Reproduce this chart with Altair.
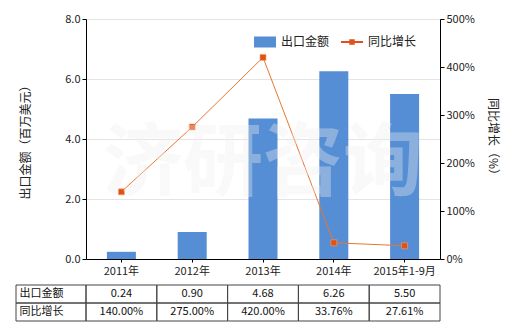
import altair as alt
import pandas as pd

years = ["2011年", "2012年", "2013年", "2014年", "2015年1-9月"]
export_values = [0.24, 0.90, 4.68, 6.26, 5.50]
growth_pct = [140.00, 275.00, 420.00, 33.76, 27.61]
row_labels = ["出口金额", "同比增长"]
series_names = ["出口金额", "同比增长"]
left_ticks = [0, 2, 4, 6, 8]
right_ticks = [0, 100, 200, 300, 400, 500]
watermark = ["济研咨询"]

BLUE = "#558ED5"
ORANGE = "#E0501A"
LINE = "#E8772E"
FONT = "Noto Sans CJK SC"
TXT = "#222222"

df = pd.DataFrame({"year": years, "value": export_values, "growth": growth_pct,
                   "s1": [series_names[0]] * len(years),
                   "s2": [series_names[1]] * len(years)})

x_main = alt.X("year:N", sort=years,
               scale=alt.Scale(paddingInner=0, paddingOuter=0),
               axis=alt.Axis(title=None, labelAngle=0, ticks=True, tickSize=3,
                             domainColor="#000000", tickColor="#000000",
                             labelFontSize=11, labelPadding=3, labelColor=TXT))

bars = alt.Chart(df).mark_bar(size=29).encode(
    x=x_main,
    y=alt.Y("value:Q", scale=alt.Scale(domain=[0, 8], nice=False),
            axis=alt.Axis(title="出口金额（百万美元）", values=left_ticks, format=".1f",
                          tickSize=4, tickColor="#000000", domainColor="#000000",
                          labelFontSize=11, labelPadding=2, labelColor=TXT,
                          titleFontSize=12, titleFontWeight="normal", titleColor=TXT,
                          titlePadding=32, grid=True, gridColor="#e4e4e4")),
    color=alt.Color("s1:N",
                    scale=alt.Scale(domain=[series_names[0]], range=[BLUE]),
                    legend=alt.Legend(title=None, orient="none", legendX=168, legendY=12,
                                      symbolType="M-1,-0.5H1V0.5H-1Z", symbolSize=484,
                                      symbolStrokeWidth=0, symbolOpacity=1,
                                      labelFontSize=12, labelColor=TXT, labelOffset=5,
                                      padding=0)),
)

y_right = alt.Y("growth:Q", scale=alt.Scale(domain=[0, 500], nice=False),
                axis=alt.Axis(title="同比增长（%）", orient="right", values=right_ticks,
                              labelExpr="datum.value + '%'", tickSize=4,
                              tickColor="#000000", domainColor="#000000",
                              labelFontSize=11, labelPadding=2, labelColor=TXT,
                              titleFontSize=12, titleFontWeight="normal", titleColor=TXT,
                              titleAngle=90, titlePadding=11, grid=False))

line = alt.Chart(df).mark_line(strokeWidth=1).encode(
    x=x_main, y=y_right,
    stroke=alt.Stroke("s2:N", scale=alt.Scale(domain=[series_names[1]], range=[LINE]),
                      legend=alt.Legend(title=None, orient="none", legendX=255, legendY=12,
                                        symbolType="M-1,-0.1H1V0.1H-1Z M-0.25,-0.25H0.25V0.25H-0.25Z",
                                        symbolSize=484, symbolFillColor=ORANGE,
                                        symbolStrokeColor=ORANGE, symbolStrokeWidth=0,
                                        symbolOpacity=1,
                                        labelFontSize=12, labelColor=TXT, labelOffset=5,
                                        padding=0)))
points = alt.Chart(df).mark_point(shape="square", size=36, filled=True, color=ORANGE,
                                  stroke="#F2A46A", strokeWidth=0.6, opacity=1).encode(
    x=x_main, y=y_right)

wm = alt.Chart(pd.DataFrame({"t": watermark})).mark_text(
    font=FONT, fontSize=80, fontWeight="bold", color="#f0f0f0", opacity=0.35,
    baseline="middle", align="center").encode(
    text="t:N", x=alt.value(177), y=alt.value(146))

main = alt.layer(bars, alt.layer(line, points), wm).resolve_scale(
    y="independent").properties(width=354, height=240)

# table
tbl = []
for yr, v, g in zip(years, export_values, growth_pct):
    tbl.append({"year": yr, "row": row_labels[0], "text": f"{v:.2f}"})
    tbl.append({"year": yr, "row": row_labels[1], "text": f"{g:.2f}%"})
tdf = pd.DataFrame(tbl)

ty = alt.Y("row:N", sort=row_labels, scale=alt.Scale(paddingInner=0, paddingOuter=0),
           axis=alt.Axis(title=None, labelAlign="left", labelPadding=67, ticks=False,
                         domain=False, labelFontSize=11, labelColor="#111111"))
tx = alt.X("year:N", sort=years, scale=alt.Scale(paddingInner=0, paddingOuter=0), axis=None)

label_cells = alt.Chart(pd.DataFrame({"row": row_labels})).mark_rect(
    fillOpacity=0, stroke="#444444", strokeWidth=1).encode(
    x=alt.value(-70), x2=alt.value(0), y=ty)
cells = alt.Chart(tdf).mark_rect(fillOpacity=0, stroke="#444444", strokeWidth=1).encode(
    x=tx, y=ty)
texts = alt.Chart(tdf).mark_text(fontSize=11, font=FONT, color="#111111").encode(
    x=tx, y=ty, text="text:N")

table = alt.layer(label_cells, cells, texts).properties(width=354, height=36)

chart = alt.vconcat(main, table, spacing=8).resolve_scale(
    x="independent", y="independent", color="independent").properties(
    padding={"left": 15, "top": 13, "right": 5, "bottom": 5}
).configure(font=FONT).configure_view(stroke=None).configure_axis(
    labelFont=FONT, titleFont=FONT).configure_legend(labelFont=FONT)

chart.save("out.html", embed_options={"renderer": "svg", "actions": False})
